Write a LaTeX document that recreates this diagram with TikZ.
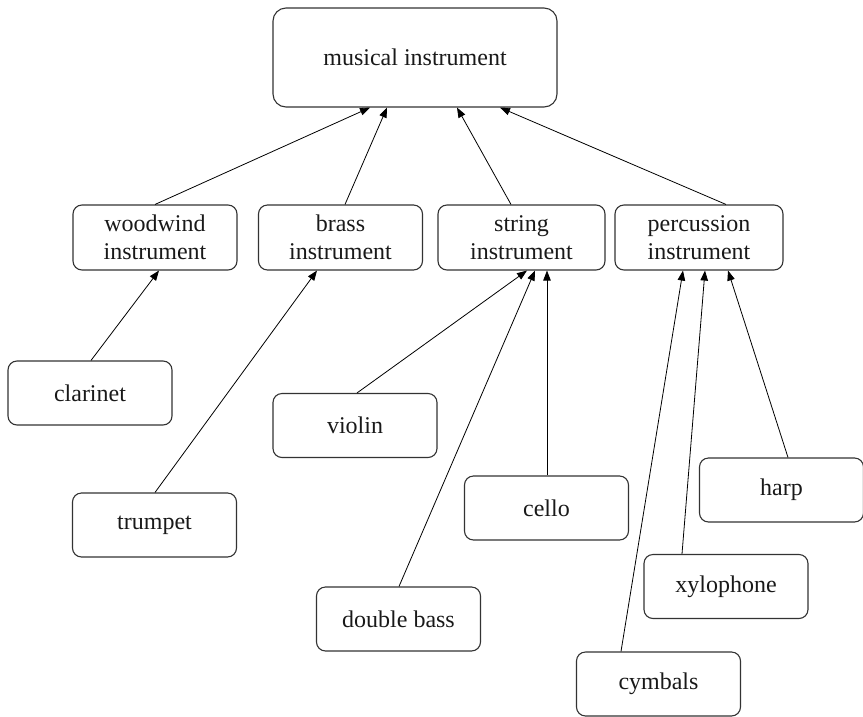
\documentclass[tikz,border=0pt]{standalone}
\usepackage{fontspec}
\setmainfont{Liberation Serif}
\usetikzlibrary{arrows.meta}

\tikzset{
  box/.style={draw=black!80, line width=1.1pt, rounded corners=9pt,
    minimum width=164pt, minimum height=64pt, align=center,
    inner sep=2pt, font=\fontsize{24}{28}\selectfont, text=black!90},
  bigbox/.style={box, minimum width=284pt, minimum height=99pt, rounded corners=13pt},
  arr/.style={line width=0.8pt, -{Triangle[length=10pt,width=7.5pt]}}
}

\begin{document}
\begin{tikzpicture}[x=1pt, y=-1pt]
\useasboundingbox (0,0) rectangle (863,716);

% top level
\node[bigbox] (musical) at (415,57.5) {musical instrument};

% instrument families
\node[box, minimum height=65pt] (woodwind)   at (155,237.5)   {woodwind\\instrument};
\node[box, minimum height=65pt] (brass)      at (340.5,237.5) {brass\\instrument};
\node[box, minimum height=65pt, minimum width=167pt] (string) at (521.5,237.5) {string\\instrument};
\node[box, minimum height=65pt, minimum width=168pt] (percussion) at (699,237.5) {percussion\\instrument};

% individual instruments
\node[box] (clarinet)   at (90,393)      {clarinet};
\node[box] (trumpet)    at (154.5,525)   {trumpet};
\node[box] (violin)     at (355,425.5)   {violin};
\node[box] (cello)      at (546.5,508)   {cello};
\node[box] (doublebass) at (398.5,619)   {double bass};
\node[box] (harp)       at (781.5,490)   {harp};
\node[box] (xylophone)  at (726,586.5)   {xylophone};
\node[box] (cymbals)    at (658.5,684)   {cymbals};

% families -> musical instrument
\draw[arr] (woodwind.north) -- ([xshift=-45pt]musical.south);
\draw[arr] ([xshift=4.5pt]brass.north) -- ([xshift=-28pt]musical.south);
\draw[arr] ([xshift=-10.5pt]string.north) -- ([xshift=42pt]musical.south);
\draw[arr] ([xshift=27pt]percussion.north) -- ([xshift=85pt]musical.south);

% woodwind and brass
\draw[arr] ([xshift=1pt]clarinet.north) -- ([xshift=4pt]woodwind.south);
\draw[arr] ([xshift=0.5pt]trumpet.north) -- ([xshift=-23.5pt]brass.south);

% strings
\draw[arr] ([xshift=2pt]violin.north) -- ([xshift=5.5pt]string.south);
\draw[arr] ([xshift=0.5pt]doublebass.north) -- ([xshift=13.5pt]string.south);
\draw[arr] ([xshift=0.5pt]cello.north) -- ([xshift=25.5pt]string.south);

% percussion
\draw[arr] ([xshift=-37.5pt]cymbals.north) -- ([xshift=-16pt]percussion.south);
\draw[arr] ([xshift=-44pt]xylophone.north) -- ([xshift=6pt]percussion.south);
\draw[arr] ([xshift=6.5pt]harp.north) -- ([xshift=29pt]percussion.south);
\end{tikzpicture}
\end{document}
